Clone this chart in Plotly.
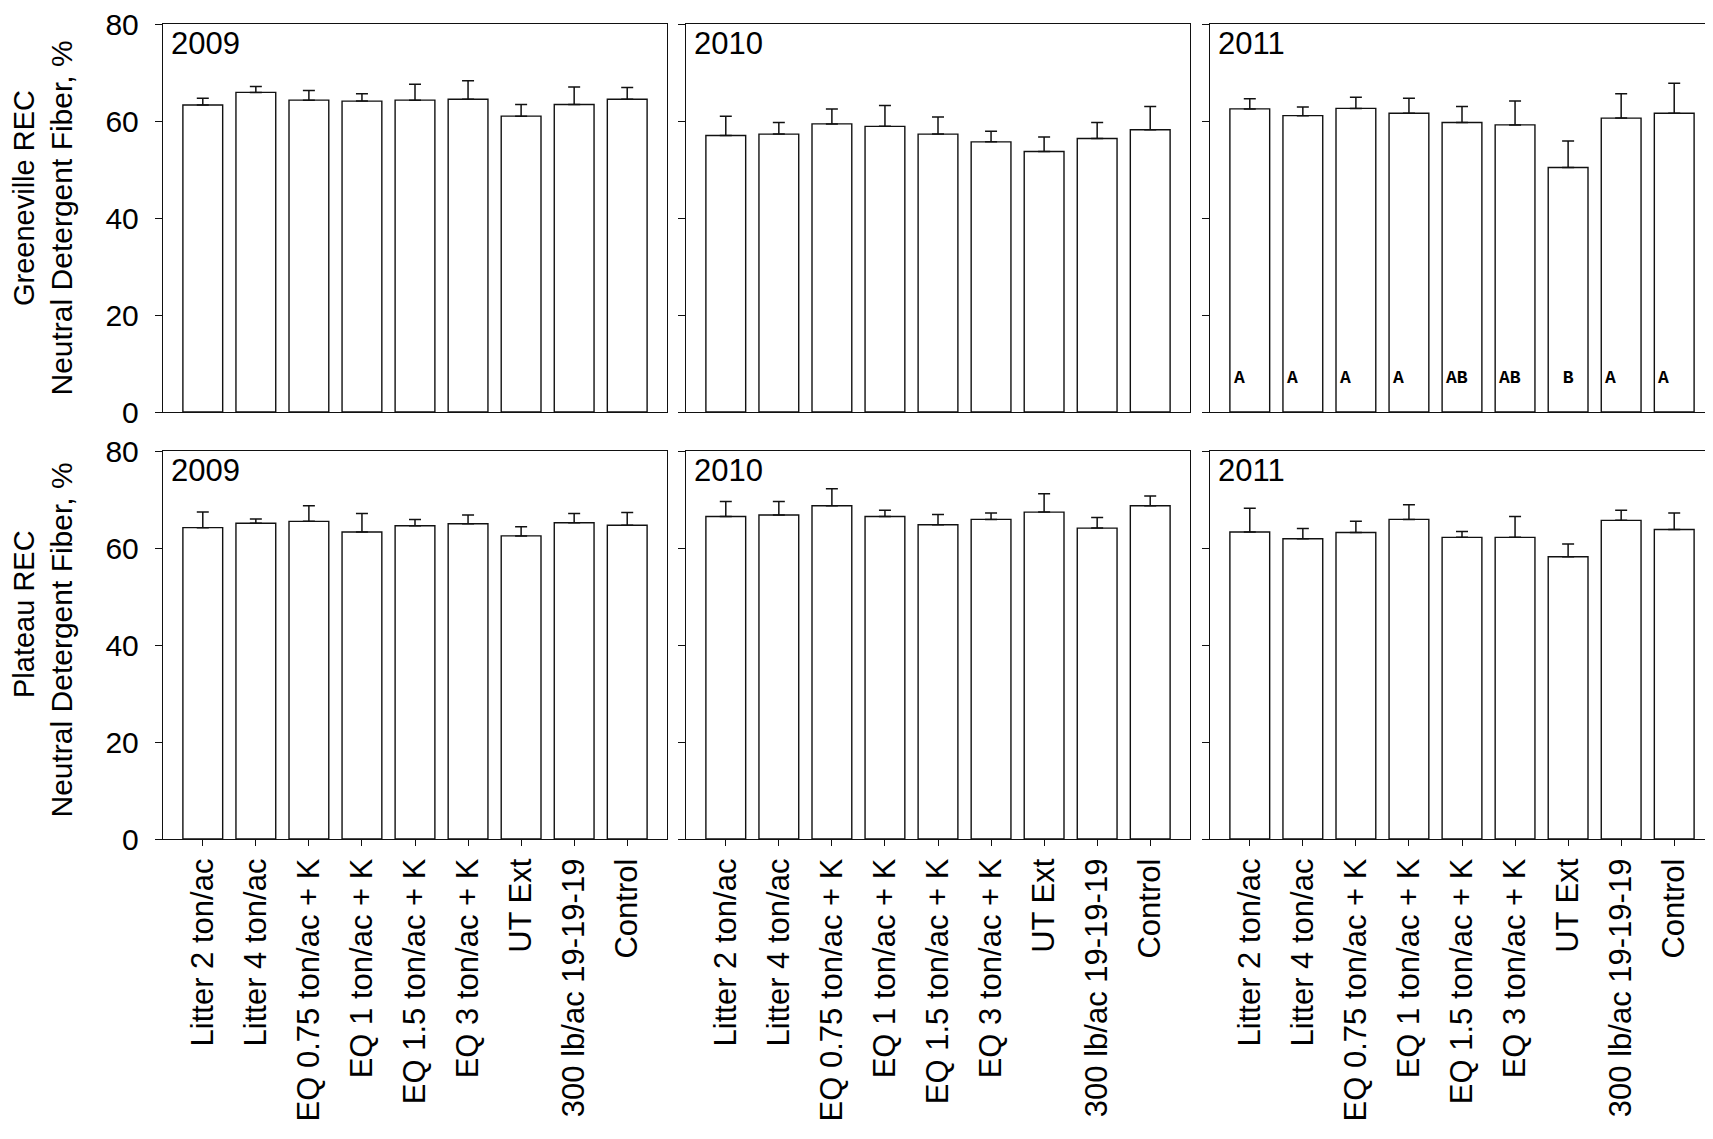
import plotly.graph_objects as go

categories = ["Litter 2 ton/ac", "Litter 4 ton/ac", "EQ 0.75 ton/ac + K", "EQ 1 ton/ac + K",
              "EQ 1.5 ton/ac + K", "EQ 3 ton/ac + K", "UT Ext", "300 lb/ac 19-19-19", "Control"]
years = ["2009", "2010", "2011"]
y_ticks = [0, 20, 40, 60, 80]

green_2009 = [63.3, 65.9, 64.3, 64.1, 64.3, 64.5, 61.0, 63.4, 64.5]
green_2009_err = [1.4, 1.2, 2.0, 1.5, 3.3, 3.8, 2.4, 3.6, 2.4]
green_2010 = [57.0, 57.3, 59.4, 58.9, 57.3, 55.7, 53.7, 56.4, 58.2]
green_2010_err = [4.0, 2.4, 3.1, 4.3, 3.5, 2.2, 3.0, 3.3, 4.8]
green_2011 = [62.5, 61.1, 62.6, 61.6, 59.7, 59.2, 50.4, 60.6, 61.6]
green_2011_err = [2.1, 1.8, 2.3, 3.1, 3.3, 4.9, 5.5, 5.0, 6.2]

plat_2009 = [64.2, 65.1, 65.5, 63.3, 64.6, 65.0, 62.5, 65.2, 64.7]
plat_2009_err = [3.2, 0.9, 3.2, 3.8, 1.3, 1.8, 1.9, 1.9, 2.6]
plat_2010 = [66.5, 66.8, 68.7, 66.5, 64.8, 65.9, 67.4, 64.1, 68.7]
plat_2010_err = [3.1, 2.8, 3.5, 1.3, 2.1, 1.3, 3.8, 2.2, 2.0]
plat_2011 = [63.3, 61.9, 63.2, 65.9, 62.2, 62.2, 58.2, 65.7, 63.8]
plat_2011_err = [4.9, 2.1, 2.3, 3.0, 1.2, 4.3, 2.6, 2.1, 3.4]

letters_green_2011 = ["A", "A", "A", "A", "AB", "AB", "B", "A", "A"]

site_titles = ["Greeneville REC", "Plateau REC"]
y_title_line2 = "Neutral Detergent Fiber, %"

# page is 1713x1139 with the default 8px body margin around the figure
OFF = 8
W, H = 1713 - 2 * OFF, 1139 - 2 * OFF
FONT = "Liberation Sans, Arial, sans-serif"

rows = [
    [(green_2009, green_2009_err), (green_2010, green_2010_err), (green_2011, green_2011_err)],
    [(plat_2009, plat_2009_err), (plat_2010, plat_2010_err), (plat_2011, plat_2011_err)],
]

# geometry in page pixels
col_px = [(163, 667), (686, 1190), (1210, 1714)]
row_px = [(24, 412), (451, 839)]
n_cat = len(categories)
full_span = n_cat + 0.5  # category units across a full panel


def fx(p):
    return (p - OFF) / W


def fy(p):
    return 1 - (p - OFF) / H


fig = go.Figure()
layout = {}
annotations = []
n = 0
for r in range(2):
    for c in range(3):
        n += 1
        xa = "x" if n == 1 else f"x{n}"
        ya = "y" if n == 1 else f"y{n}"
        xkey = "xaxis" if n == 1 else f"xaxis{n}"
        ykey = "yaxis" if n == 1 else f"yaxis{n}"
        vals, errs = rows[r][c]
        fig.add_trace(go.Bar(
            x=categories, y=vals, xaxis=xa, yaxis=ya, width=0.75,
            marker=dict(color="white", line=dict(color="#111", width=1.4)),
            error_y=dict(type="data", array=errs, arrayminus=[0] * len(errs), symmetric=False,
                         color="#111", thickness=1.5, width=6),
            showlegend=False, hoverinfo="x+y",
        ))
        x0, x1 = col_px[c]
        y0, y1 = row_px[r]
        d1 = min(fx(x1), 1.0)
        # keep the same px-per-category when the panel is clipped by the page edge
        frac = (d1 * W - (x0 - OFF)) / (x1 - x0)
        layout[xkey] = dict(
            domain=[fx(x0), d1], anchor=ya, automargin=False,
            type="category", range=[-0.75, -0.75 + full_span * frac],
            showline=True, linecolor="#111", linewidth=1.4, mirror=True,
            ticks="outside" if r == 1 else "", ticklen=6, tickwidth=1.2, tickcolor="#111",
            showticklabels=(r == 1), tickangle=-90, ticklabeloverflow="allow",
            tickfont=dict(family=FONT, size=31, color="black"),
            showgrid=False, zeroline=False, fixedrange=True,
        )
        layout[ykey] = dict(
            domain=[fy(y1), fy(y0)], anchor=xa, automargin=False,
            range=[0, 80], tickvals=y_ticks,
            showline=True, linecolor="#111", linewidth=1.4, mirror=(c < 2),
            ticks="outside", ticklen=7, tickwidth=1.2, tickcolor="#111",
            showticklabels=(c == 0), ticklabelstandoff=10, ticklabeloverflow="allow",
            tickfont=dict(family=FONT, size=30, color="black"),
            showgrid=False, zeroline=False, fixedrange=True,
        )
        annotations.append(dict(
            text=years[c], xref=f"{xa} domain", yref=f"{ya} domain", x=0, y=1,
            xanchor="left", yanchor="top", xshift=6, yshift=0, showarrow=False,
            font=dict(family=FONT, size=31, color="black"),
        ))

# significance letters (Greeneville 2011, panel 3)
for i, lt in enumerate(letters_green_2011):
    padded = "".join(ch if ch in lt else "\u00a0" for ch in "AB")
    annotations.append(dict(
        text=f"<b>{padded}</b>", xref="x3", yref="y3", x=i - 0.375, y=7,
        xanchor="left", yanchor="middle", xshift=2, showarrow=False,
        font=dict(family="Liberation Mono, Courier New, monospace", size=18, color="black"),
    ))

# y-axis titles (two lines, per row)
line1_bottom = [308, 700]
line2_bottom = [398, 820]
for r in range(2):
    annotations.append(dict(
        text=site_titles[r], xref="paper", yref="paper", x=fx(24), y=fy(line1_bottom[r]),
        xanchor="center", yanchor="bottom", textangle=-90, showarrow=False,
        font=dict(family=FONT, size=29, color="black"),
    ))
    annotations.append(dict(
        text=y_title_line2, xref="paper", yref="paper", x=fx(61), y=fy(line2_bottom[r]),
        xanchor="center", yanchor="bottom", textangle=-90, showarrow=False,
        font=dict(family=FONT, size=30, color="black"),
    ))

fig.update_layout(
    width=W, height=H, margin=dict(l=0, r=0, t=0, b=0, autoexpand=False),
    paper_bgcolor="white", plot_bgcolor="white",
    annotations=annotations, bargap=0.25,
    **layout,
)

fig.write_html("out.html")
